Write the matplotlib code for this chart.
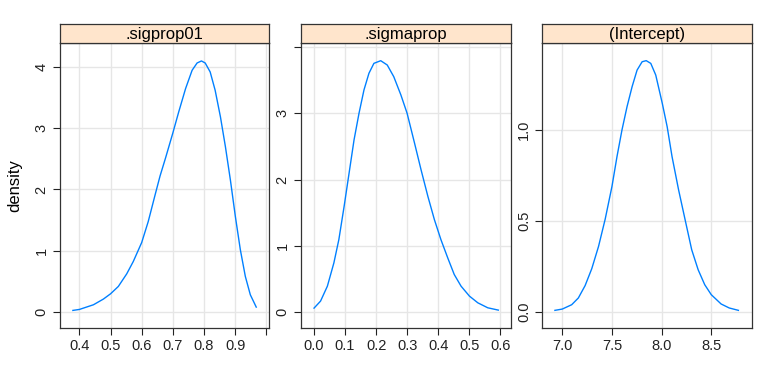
import matplotlib
matplotlib.use("Agg")
import matplotlib.pyplot as plt

plt.rcParams['font.family'] = ['Liberation Sans', 'DejaVu Sans']

# ---- data ----
panel_titles = [".sigprop01", ".sigmaprop", "(Intercept)"]

x_sigprop01 = [0.379, 0.400, 0.445, 0.477, 0.500, 0.525, 0.552, 0.573, 0.600, 0.621,
               0.643, 0.659, 0.677, 0.700, 0.719, 0.741, 0.762, 0.778, 0.792, 0.804,
               0.820, 0.836, 0.853, 0.869, 0.885, 0.901, 0.917, 0.933, 0.949, 0.968]
y_sigprop01 = [0.027, 0.043, 0.119, 0.212, 0.298, 0.418, 0.624, 0.825, 1.134, 1.476,
               1.910, 2.220, 2.520, 2.920, 3.266, 3.646, 3.945, 4.064, 4.097, 4.064,
               3.918, 3.619, 3.185, 2.697, 2.154, 1.557, 1.015, 0.581, 0.282, 0.081]

x_sigmaprop = [0.000, 0.021, 0.043, 0.064, 0.080, 0.097, 0.113, 0.129, 0.145, 0.161,
               0.177, 0.193, 0.215, 0.236, 0.257, 0.280, 0.300, 0.324, 0.345, 0.367,
               0.388, 0.409, 0.431, 0.452, 0.474, 0.501, 0.528, 0.560, 0.594]
y_sigmaprop = [0.060, 0.166, 0.391, 0.743, 1.094, 1.596, 2.097, 2.599, 3.000, 3.352,
               3.603, 3.753, 3.793, 3.728, 3.552, 3.276, 3.000, 2.549, 2.147, 1.746,
               1.395, 1.094, 0.818, 0.567, 0.391, 0.241, 0.140, 0.065, 0.030]

x_intercept = [6.926, 7.000, 7.095, 7.162, 7.230, 7.297, 7.365, 7.432, 7.500, 7.551,
               7.601, 7.652, 7.703, 7.753, 7.804, 7.845, 7.891, 7.941, 8.007, 8.056,
               8.105, 8.171, 8.237, 8.303, 8.368, 8.434, 8.500, 8.599, 8.681, 8.773]
y_intercept = [0.009, 0.016, 0.040, 0.077, 0.145, 0.238, 0.360, 0.510, 0.689, 0.854,
               1.000, 1.128, 1.238, 1.329, 1.375, 1.381, 1.366, 1.302, 1.146, 1.018,
               0.854, 0.671, 0.506, 0.342, 0.232, 0.150, 0.095, 0.044, 0.022, 0.009]

xticks = [[0.4, 0.5, 0.6, 0.7, 0.8, 0.9, 1.0],
          [0.0, 0.1, 0.2, 0.3, 0.4, 0.5, 0.6],
          [7.0, 7.5, 8.0, 8.5]]
xticklabels = [["0.4", "0.5", "0.6", "0.7", "0.8", "0.9", ""],
               ["0.0", "0.1", "0.2", "0.3", "0.4", "0.5", "0.6"],
               ["7.0", "7.5", "8.0", "8.5"]]
yticks = [[0, 1, 2, 3, 4], [0, 1, 2, 3, 4], [0.0, 0.5, 1.0]]
yticklabels = [["0", "1", "2", "3", "4"], ["0", "1", "2", "3", ""], ["0.0", "0.5", "1.0"]]

xlims = [(0.336, 1.009), (-0.043, 0.634), (6.796, 8.91)]
ylims = [(-0.26, 4.39), (-0.24, 4.06), (-0.088, 1.478)]

xs = [x_sigprop01, x_sigmaprop, x_intercept]
ys = [y_sigprop01, y_sigmaprop, y_intercept]

# ---- layout ----
W, H = 768, 384
fig = plt.figure(figsize=(W / 100, H / 100), dpi=100)
lefts = [59.5, 300.7, 542.0]
rights = [269.0, 510.7, 752.0]
top_px, bot_px, strip_top_px = 43.0, 328.0, 23.5

line_col = "#0080ff"
grid_col = "#e6e6e6"
frame_col = "#333333"

for i in range(3):
    l, r = lefts[i], rights[i]
    ax = fig.add_axes([l / W, 1 - bot_px / H, (r - l) / W, (bot_px - top_px) / H])
    ax.plot(xs[i], ys[i], color=line_col, lw=1.0, solid_joinstyle="round")
    ax.set_xlim(*xlims[i])
    ax.set_ylim(*ylims[i])
    ax.set_xticks(xticks[i])
    ax.set_xticklabels(xticklabels[i])
    ax.set_yticks(yticks[i])
    ax.set_yticklabels(yticklabels[i], rotation=90, va="center")
    ax.grid(True, color=grid_col, lw=1.0)
    ax.set_axisbelow(True)
    ax.tick_params(axis="both", direction="out", length=5, width=0.8,
                   colors="#222222", labelsize=10.5, pad=3)
    for s in ax.spines.values():
        s.set_color(frame_col)
        s.set_linewidth(0.9)
    # strip
    sax = fig.add_axes([l / W, 1 - top_px / H, (r - l) / W, (top_px - strip_top_px) / H])
    sax.set_facecolor("#ffe5cc")
    sax.set_xticks([])
    sax.set_yticks([])
    for s in sax.spines.values():
        s.set_color(frame_col)
        s.set_linewidth(0.9)
    sax.text(0.5, 0.45, panel_titles[i], ha="center", va="center", fontsize=12,
             transform=sax.transAxes, color="black")

fig.text(15 / W, 1 - 186 / H, "density", rotation=90, ha="center", va="center", fontsize=12)

fig.savefig("out.png", dpi=100)
